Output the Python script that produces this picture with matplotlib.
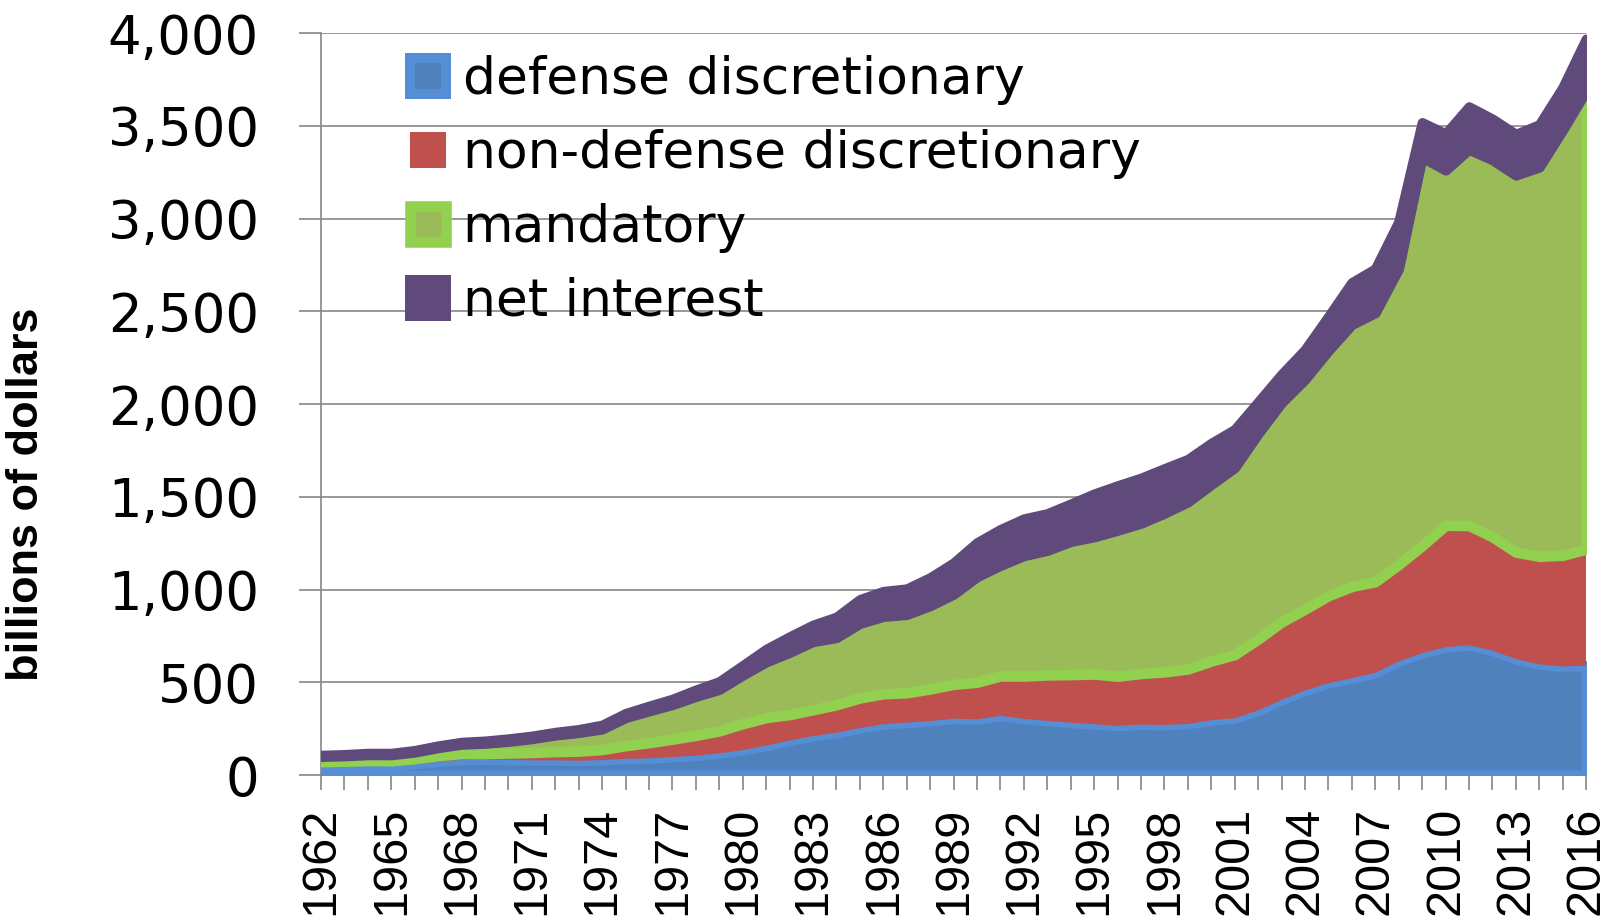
import numpy as np
import matplotlib
matplotlib.use("Agg")
import matplotlib.pyplot as plt
from matplotlib.patches import Patch
from matplotlib.ticker import StrMethodFormatter

years = np.arange(1962, 2017)

defense = [52.6, 53.7, 55.0, 51.0, 59.0, 72.0, 82.2, 82.7, 81.9, 79.0,
           79.3, 77.1, 80.7, 87.6, 89.9, 97.5, 104.6, 116.8, 134.6, 158.0,
           185.9, 209.9, 228.0, 253.1, 273.8, 282.5, 290.9, 304.0, 300.1, 319.7,
           302.6, 292.4, 282.3, 273.6, 266.0, 271.7, 270.2, 275.5, 295.0, 306.1,
           348.5, 404.8, 455.8, 495.3, 521.8, 551.2, 612.4, 656.7, 688.9, 699.4,
           670.5, 625.8, 596.5, 585.0, 590.0]
nondefense = [19.5, 21.1, 23.2, 26.1, 29.5, 32.4, 33.7, 33.0, 36.8, 42.6,
              47.1, 51.9, 56.9, 71.0, 84.5, 96.1, 109.5, 121.4, 142.4, 151.6,
              140.2, 142.2, 151.1, 162.6, 164.5, 161.1, 173.5, 184.9, 200.4, 214.6,
              231.2, 247.3, 259.1, 271.0, 266.8, 275.8, 285.8, 296.3, 319.7, 343.5,
              385.0, 420.4, 439.0, 472.1, 494.9, 491.7, 522.8, 580.0, 657.5, 646.1,
              614.1, 576.2, 582.8, 600.0, 628.0]
mandatory = [27.9, 28.3, 31.2, 32.0, 34.9, 42.9, 50.0, 55.3, 62.5, 74.0,
             88.8, 99.5, 110.5, 150.6, 170.7, 185.8, 209.4, 223.0, 261.2, 299.8,
             334.5, 366.8, 361.5, 401.3, 416.0, 421.6, 448.2, 485.8, 568.1, 595.5,
             648.3, 671.0, 717.4, 739.0, 786.0, 809.5, 855.1, 900.1, 951.4, 1007.2,
             1106.5, 1181.7, 1237.9, 1320.4, 1411.7, 1448.9, 1594.6, 2093.8, 1914.5, 2027.3,
             2031.7, 2031.8, 2097.8, 2292.0, 2470.0]
net_interest = [6.9, 7.7, 8.2, 8.6, 9.4, 10.3, 11.1, 12.7, 14.4, 14.8,
                15.5, 17.3, 21.4, 23.2, 26.7, 29.9, 35.5, 42.6, 52.5, 68.8,
                85.0, 89.8, 111.1, 129.5, 136.0, 138.6, 151.8, 169.0, 184.3, 194.4,
                199.3, 198.7, 202.9, 232.1, 241.1, 244.0, 241.1, 229.8, 222.9, 206.2,
                170.9, 153.1, 160.2, 184.0, 226.6, 237.1, 252.8, 187.0, 196.2, 230.0,
                220.4, 220.9, 229.0, 229.0, 280.0]

labels = ["defense discretionary", "non-defense discretionary", "mandatory", "net interest"]
fills = ["#4F81BD", "#C0504D", "#9BBB59", "#604A7B"]
edges = ["#558ED5", "none", "#92D050", "#604A7B"]
widths = [7.2, 0, 7.6, 7.2]

fig = plt.figure(figsize=(16.14, 9.23), dpi=100)
ax = fig.add_axes([0.1989, 0.1603, 0.7838, 0.8039])

lower = np.zeros(len(years))
for i, vals in enumerate([defense, nondefense, mandatory, net_interest]):
    upper = lower + np.array(vals)
    ax.fill_between(years, lower, upper, facecolor=fills[i], edgecolor=edges[i],
                    linewidth=widths[i], joinstyle="round", zorder=3 + i)
    lower = upper

ax.set_xlim(1962, 2016)
ax.set_ylim(0, 4000)
ax.set_yticks(np.arange(0, 4001, 500))
ax.yaxis.set_major_formatter(StrMethodFormatter("{x:,.0f}"))
ax.set_xticks(years[::3])
ax.set_xticks(years, minor=True)

gray = "#868686"
ax.grid(axis="y", color=gray, linewidth=1.2)
ax.set_axisbelow(True)
for s in ["top", "right"]:
    ax.spines[s].set_visible(False)
for s in ["left", "bottom"]:
    ax.spines[s].set_color(gray)
    ax.spines[s].set_linewidth(1.2)

ax.tick_params(axis="y", length=15.8, width=1.2, color=gray, pad=29, labelsize=38)
ax.tick_params(axis="x", which="both", length=10.8, width=1.2, color=gray)
ax.tick_params(axis="x", which="major", pad=12, labelsize=35, labelrotation=90)
for lab in ax.get_yticklabels():
    lab.set_fontfamily(["DejaVu Sans"])
for lab in ax.get_xticklabels():
    lab.set_fontfamily(["Liberation Sans", "DejaVu Sans"])

# axis title: bold, sized so its length matches the original
ylab = fig.text(27 / 1614, 1 - 494 / 923, "billions of dollars", rotation=90,
                ha="center", va="center", fontsize=36, fontweight="bold",
                family=["Liberation Sans", "DejaVu Sans"])
fig.canvas.draw()
h = ylab.get_window_extent().height
ylab.set_fontsize(36 * 374 / h)

handles = [Patch(facecolor=fills[i], edgecolor=edges[i], linewidth=widths[i],
                 joinstyle="round") for i in range(4)]
ax.legend(handles, labels, loc="upper left", bbox_to_anchor=(0.0704, 0.970),
          frameon=False, fontsize=37.4, borderpad=0, borderaxespad=0,
          handlelength=0.7, handleheight=0.7, handletextpad=0.31,
          labelspacing=0.46)

fig.savefig("out.png", dpi=100)
